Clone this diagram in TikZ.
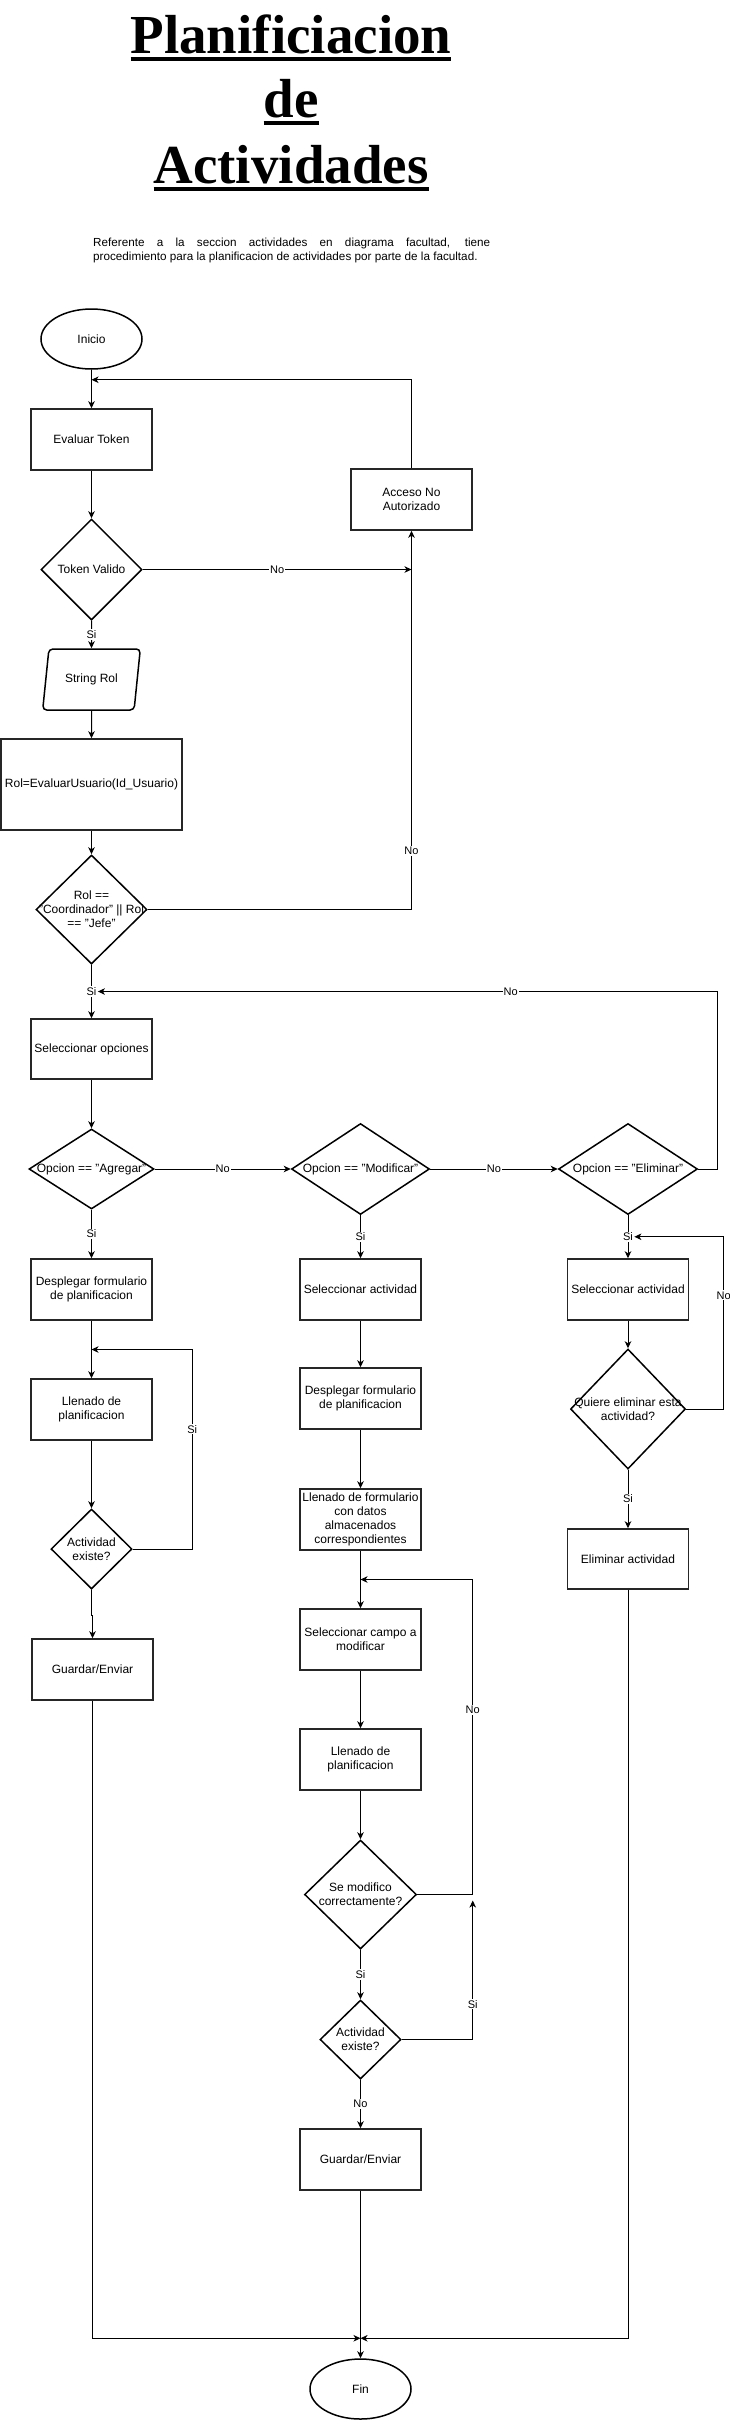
\documentclass[tikz,border=0pt]{standalone}
\usepackage{fontspec}
\setmainfont{Liberation Sans}
\newfontfamily\titlefont{Liberation Serif}
\usetikzlibrary{shapes.geometric,arrows.meta,calc}
\setlength{\parindent}{0pt}
\newsavebox{\ulbox}
\newcommand{\thickul}[1]{\sbox{\ulbox}{#1}\rlap{\rule[-7.5pt]{\wd\ulbox}{4pt}}\usebox{\ulbox}}

\begin{document}
\begin{tikzpicture}[x=1pt,y=-1pt,
    every node/.style={font=\fontsize{12}{14}\selectfont},
    proc/.style={draw=black!85,line width=1.5pt,minimum width=121pt,minimum height=61pt,inner sep=2pt,align=center},
    term/.style={ellipse,draw,line width=1.5pt,minimum width=101pt,minimum height=60pt,inner sep=0pt},
    io/.style={trapezium,trapezium left angle=71,trapezium right angle=109,trapezium stretches=true,draw,line width=1.5pt,rounded corners=4pt,minimum width=98pt,minimum height=61pt,inner sep=0pt},
    decision/.style 2 args={diamond,draw,line width=1.5pt,minimum width=#1,minimum height=#2,inner sep=0pt},
    dtext/.style={align=center,inner sep=0pt},
    arr/.style={line width=1pt,-{Stealth[length=7pt,width=6.5pt,inset=2pt]}},
    lbl/.style={fill=white,inner sep=1pt,font=\fontsize{11}{13}\selectfont},
    ttl/.style={anchor=base,font=\titlefont\bfseries\fontsize{55}{60}\selectfont}]
    \useasboundingbox (0,0) rectangle (730,2420);
    %
    \node[ttl] (tit1) at (291,53) {\thickul{Planificiacion}};
    \node[ttl] (tit2) at (291,117) {\thickul{de}};
    \node[ttl] (tit3) at (291,183) {\thickul{Actividades}};
    \node[anchor=north west,text width=397pt,align=justify,inner sep=0pt,font=\fontsize{11.7}{14}\selectfont] (desc) at (93,238)
        {Referente a la seccion actividades en diagrama facultad, tiene\linebreak \mbox{procedimiento para la planificacion de actividades por parte de la facultad.}};
    %
    \node[term] (inicio) at (91.5,339) {Inicio};
    \node[proc] (evtoken) at (91.5,439.5) {Evaluar Token};
    \node[decision={101pt}{101pt},label={[dtext]center:Token Valido}] (tokval) at (91.5,569.5) {};
    \node[proc] (acceso) at (411.5,499.5) {Acceso No\\Autorizado};
    \node[io] (strrol) at (91.5,679.5) {String Rol};
    \node[proc,minimum width=181pt,minimum height=91pt] (evusr) at (91.5,784.5) {Rol=EvaluarUsuario(Id\_Usuario)};
    \node[decision={111pt}{109pt},label={[dtext]center:{Rol ==\\"Coordinador" || Rol\\== "Jefe"}}] (roldec) at (91.5,909.5) {};
    \node[proc,minimum height=60pt] (selop) at (91.5,1049) {Seleccionar opciones};
    %
    \node[decision={125pt}{80pt},label={[dtext]center:{Opcion == "Agregar"}}] (agregar) at (91.5,1169) {};
    \node[decision={138pt}{91pt},label={[dtext]center:{Opcion == "Modificar"}}] (modificar) at (360.5,1169) {};
    \node[decision={139pt}{91pt},label={[dtext]center:{Opcion == "Eliminar"}}] (eliminar) at (628,1169) {};
    %
    \node[proc] (despl1) at (91.5,1289.5) {Desplegar formulario\\de planificacion};
    \node[proc] (llen1) at (91.5,1409.5) {Llenado de\\planificacion};
    \node[decision={81pt}{80pt},label={[dtext]center:{Actividad\\existe?}}] (existe1) at (91.5,1549) {};
    \node[proc] (guardar1) at (92.5,1669.5) {Guardar/Enviar};
    %
    \node[proc] (selact2) at (360.5,1289.5) {Seleccionar actividad};
    \node[proc] (despl2) at (360.5,1398.5) {Desplegar formulario\\de planificacion};
    \node[proc] (llenform) at (360.5,1519.5) {Llenado de formulario\\con datos\\almacenados\\correspondientes};
    \node[proc] (selcampo) at (360.5,1639.5) {Seleccionar campo a\\modificar};
    \node[proc] (llen2) at (360.5,1759.5) {Llenado de\\planificacion};
    \node[decision={112pt}{109pt},label={[dtext]center:{Se modifico\\correctamente?}}] (semod) at (360.5,1894.5) {};
    \node[decision={81pt}{79pt},label={[dtext]center:{Actividad\\existe?}}] (existe2) at (360.5,2039.5) {};
    \node[proc] (guardar2) at (360.5,2159.5) {Guardar/Enviar};
    \node[term] (fin) at (360.5,2389) {Fin};
    %
    \node[proc] (selact3) at (628,1289.5) {Seleccionar actividad};
    \node[decision={115pt}{120pt},label={[dtext]center:{Quiere eliminar esta\\actividad?}}] (quiere) at (628,1409) {};
    \node[proc,minimum height=60pt] (elimact) at (628,1559) {Eliminar actividad};
    %
    \coordinate (j1) at ($(inicio.south)+(0,10)$);
    \coordinate (j2) at ($(despl1.south)!0.5!(llen1.north)$);
    \coordinate (j3) at ($(llenform.south)!0.5!(selcampo.north)$);
    \coordinate (j4) at ($(semod.east)+(55.5,6)$);
    \coordinate (jf) at ($(fin.north)+(0,-20)$);
    %
    \draw[arr] (inicio.south) -- (evtoken.north);
    \draw[arr] (acceso.north) |- (j1);
    \draw[arr] (evtoken.south) -- (tokval.north);
    \draw[arr] (tokval.east) -- node[lbl] {No} (tokval.east -| acceso.south);
    \draw[arr] (tokval.south) -- node[lbl] {Si} (strrol.north);
    \draw[arr] (strrol.south) -- (evusr.north);
    \draw[arr] (evusr.south) -- (roldec.north);
    \draw[arr] (roldec.east) -| node[lbl,pos=0.577] {No} (acceso.south);
    \draw[arr] (roldec.south) -- node[lbl] (si2) {Si} (selop.north);
    \draw[arr] (selop.south) -- (agregar.north);
    \draw[arr] (agregar.east) -- node[lbl] {No} (modificar.west);
    \draw[arr] (modificar.east) -- node[lbl] {No} (eliminar.west);
    \draw[arr] (eliminar.east) -- ++(19.5,0) |- node[lbl,pos=0.667] {No} (si2.east);
    \draw[arr] (agregar.south) -- node[lbl] {Si} (despl1.north);
    \draw[arr] (modificar.south) -- node[lbl] {Si} (selact2.north);
    \draw[arr] (eliminar.south) -- node[lbl] (si3) {Si} (selact3.north);
    %
    \draw[arr] (despl1.south) -- (llen1.north);
    \draw[arr] (llen1.south) -- (existe1.north);
    \draw[arr] (existe1.east) -- ++(59.5,0) |- node[lbl,pos=0.3] {Si} (j2);
    \draw[arr] (existe1.south) -- ++(0,26) -| (guardar1.north);
    \draw[arr] (guardar1.south) |- (jf);
    %
    \draw[arr] (selact2.south) -- (despl2.north);
    \draw[arr] (despl2.south) -- (llenform.north);
    \draw[arr] (llenform.south) -- (selcampo.north);
    \draw[arr] (selcampo.south) -- (llen2.north);
    \draw[arr] (llen2.south) -- (semod.north);
    \draw[arr] (semod.east) -- ++(55.5,0) |- node[lbl,pos=0.293] {No} (j3);
    \draw[arr] (semod.south) -- node[lbl] {Si} (existe2.north);
    \draw[arr] (existe2.east) -| node[lbl,pos=0.627] {Si} (j4);
    \draw[arr] (existe2.south) -- node[lbl] {No} (guardar2.north);
    \draw[arr] (guardar2.south) -- (fin.north);
    %
    \draw[arr] (selact3.south) -- (quiere.north);
    \draw[arr] (quiere.east) -- ++(37.5,0) |- node[lbl,pos=0.33] {No} (si3.east);
    \draw[arr] (quiere.south) -- node[lbl] {Si} (elimact.north);
    \draw[arr] (elimact.south) |- (jf);
    %
\end{tikzpicture}
\end{document}
